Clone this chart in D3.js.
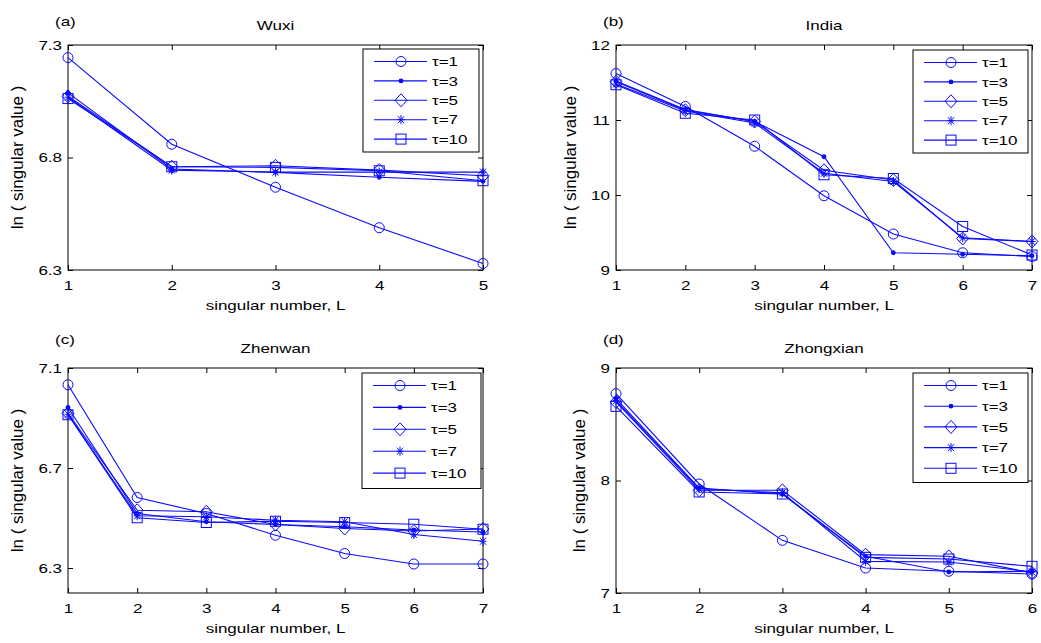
<!DOCTYPE html>
<html>
<head>
<meta charset="utf-8">
<script src="https://cdn.jsdelivr.net/npm/d3@7"></script>
<style>
  body { margin: 0; background: #fff; }
  svg { display: block; }
  text { font-family: "Liberation Sans", Arial, sans-serif; fill: #000; }
</style>
</head>
<body>
<div id="chart"></div>
<script>
// legend entries and marker type per series
const tauLabels = ['τ=1', 'τ=3', 'τ=5', 'τ=7', 'τ=10'];
const markerTypes = ['circle', 'dot', 'diamond', 'star', 'square'];

// (a) Wuxi
const wuxiL = [1, 2, 3, 4, 5];
const wuxiValues = [
  [7.244, 6.859, 6.668, 6.488, 6.329],
  [7.087, 6.749, 6.734, 6.712, 6.694],
  [7.072, 6.759, 6.763, 6.744, 6.719],
  [7.068, 6.744, 6.735, 6.735, 6.735],
  [7.062, 6.759, 6.756, 6.741, 6.697]
];
const wuxiYTicks = [6.3, 6.8, 7.3];

// (b) India
const indiaL = [1, 2, 3, 4, 5, 6, 7];
const indiaValues = [
  [11.62, 11.18, 10.65, 9.99, 9.48, 9.23, 9.18],
  [11.52, 11.14, 10.98, 10.51, 9.23, 9.21, 9.19],
  [11.51, 11.13, 10.98, 10.33, 10.20, 9.42, 9.38],
  [11.48, 11.12, 10.96, 10.29, 10.18, 9.43, 9.38],
  [11.47, 11.09, 11.00, 10.27, 10.22, 9.58, 9.20]
];
const indiaYTicks = [9, 10, 11, 12];

// (c) Zhenwan
const zhenwanL = [1, 2, 3, 4, 5, 6, 7];
const zhenwanValues = [
  [7.033, 6.582, 6.518, 6.431, 6.358, 6.316, 6.316],
  [6.942, 6.518, 6.485, 6.474, 6.465, 6.452, 6.444],
  [6.919, 6.531, 6.525, 6.474, 6.458, 6.448, 6.456],
  [6.915, 6.509, 6.505, 6.491, 6.485, 6.434, 6.407],
  [6.913, 6.501, 6.482, 6.487, 6.482, 6.475, 6.455]
];
const zhenwanYTicks = [6.3, 6.7, 7.1];

// (d) Zhongxian
const zhongxianL = [1, 2, 3, 4, 5, 6];
const zhongxianValues = [
  [8.772, 7.969, 7.468, 7.222, 7.193, 7.169],
  [8.727, 7.933, 7.880, 7.326, 7.187, 7.193],
  [8.698, 7.913, 7.913, 7.341, 7.326, 7.178],
  [8.710, 7.927, 7.890, 7.281, 7.276, 7.187],
  [8.659, 7.898, 7.880, 7.317, 7.302, 7.237]
];
const zhongxianYTicks = [7, 8, 9];

const panels = [
  { tag: '(a)', title: 'Wuxi', L: wuxiL, values: wuxiValues, yDomain: [6.3, 7.3], yTicks: wuxiYTicks,
    left: 68, top: 45, right: 483, bottom: 270, ylabX: 23, legX: 363, legY: 49, legStep: 19.4, legW: 116 },
  { tag: '(b)', title: 'India', L: indiaL, values: indiaValues, yDomain: [9, 12], yTicks: indiaYTicks,
    left: 616, top: 45, right: 1032, bottom: 270, ylabX: 576, legX: 913, legY: 50, legStep: 19.4, legW: 115 },
  { tag: '(c)', title: 'Zhenwan', L: zhenwanL, values: zhenwanValues, yDomain: [6.2, 7.1], yTicks: zhenwanYTicks,
    left: 68, top: 368, right: 483, bottom: 593, ylabX: 23, legX: 362, legY: 373, legStep: 21.9, legW: 119 },
  { tag: '(d)', title: 'Zhongxian', L: zhongxianL, values: zhongxianValues, yDomain: [7, 9], yTicks: zhongxianYTicks,
    left: 616, top: 368, right: 1032, bottom: 593, ylabX: 585, legX: 913, legY: 373, legStep: 20.7, legW: 115 }
];

const width = 1041;
const height = 643;
const blue = '#0a0aff';
const squash = 'scale(1,0.8)';

const svg = d3.select('#chart')
  .append('svg')
  .attr('width', width)
  .attr('height', height);

svg.append('rect').attr('width', width).attr('height', height).attr('fill', '#fff');

// draw one marker centred on 0,0
const drawMarker = (g, type) => {
  if (type === 'circle') {
    g.append('circle').attr('r', 5).attr('fill', 'none').attr('stroke', blue);
  } else if (type === 'dot') {
    g.append('circle').attr('r', 2.4).attr('fill', blue).attr('stroke', 'none');
  } else if (type === 'diamond') {
    g.append('path').attr('d', 'M0,-6.5L6,0L0,6.5L-6,0Z').attr('fill', 'none').attr('stroke', blue);
  } else if (type === 'star') {
    g.append('path')
      .attr('d', 'M0,-4.5V4.5M-3.5,0H3.5M-3,-3.5L3,3.5M-3,3.5L3,-3.5')
      .attr('fill', 'none').attr('stroke', blue);
  } else if (type === 'square') {
    g.append('rect').attr('x', -5).attr('y', -5).attr('width', 10).attr('height', 10)
      .attr('fill', 'none').attr('stroke', blue);
  }
};

panels.forEach(p => {
  const x = d3.scaleLinear().domain(d3.extent(p.L)).range([p.left, p.right]);
  const y = d3.scaleLinear().domain(p.yDomain).range([p.bottom, p.top]);
  const g = svg.append('g');

  // axes with inward ticks
  const bottomAxis = g.append('g')
    .attr('transform', `translate(0,${p.bottom})`)
    .call(d3.axisBottom(x).tickValues(p.L).tickFormat(d3.format('d')).tickSizeInner(-5).tickSizeOuter(0));
  bottomAxis.selectAll('text')
    .attr('y', 15 / 0.8).attr('dy', '0.35em')
    .attr('transform', squash)
    .style('font-size', '17px');

  const leftAxis = g.append('g')
    .attr('transform', `translate(${p.left},0)`)
    .call(d3.axisLeft(y).tickValues(p.yTicks).tickFormat(d => String(d)).tickSizeInner(-5).tickSizeOuter(0).tickPadding(6));
  leftAxis.selectAll('text')
    .attr('dy', '0.32em')
    .attr('transform', squash)
    .style('font-size', '17px');

  g.append('g')
    .attr('transform', `translate(0,${p.top})`)
    .call(d3.axisTop(x).tickValues(p.L).tickFormat('').tickSizeInner(-5).tickSizeOuter(0));
  g.append('g')
    .attr('transform', `translate(${p.right},0)`)
    .call(d3.axisRight(y).tickValues(p.yTicks).tickFormat('').tickSizeInner(-5).tickSizeOuter(0));

  g.selectAll('.domain').remove();
  g.selectAll('.tick line').attr('stroke', '#000');

  g.append('rect')
    .attr('x', p.left).attr('y', p.top)
    .attr('width', p.right - p.left).attr('height', p.bottom - p.top)
    .attr('fill', 'none').attr('stroke', '#000').attr('stroke-width', 1);

  // series
  const line = d3.line().x((d, i) => x(p.L[i])).y(d => y(d));
  p.values.forEach((vals, si) => {
    g.append('path')
      .datum(vals)
      .attr('d', line)
      .attr('fill', 'none')
      .attr('stroke', blue)
      .attr('stroke-width', 1.1);
    vals.forEach((v, i) => {
      const m = g.append('g').attr('transform', `translate(${x(p.L[i])},${y(v)})`);
      drawMarker(m, markerTypes[si]);
    });
  });

  // titles and labels
  g.append('text')
    .attr('transform', `translate(${(p.left + p.right) / 2},${p.top - 15}) ${squash}`)
    .attr('text-anchor', 'middle')
    .style('font-size', '17px')
    .text(p.title);

  g.append('text')
    .attr('transform', `translate(${p.left - 13},${p.top - (p.top < 100 ? 19.5 : 24.5)}) ${squash}`)
    .style('font-size', '17px')
    .text(p.tag);

  g.append('text')
    .attr('transform', `translate(${(p.left + p.right) / 2},${p.bottom + 40}) ${squash}`)
    .attr('text-anchor', 'middle')
    .style('font-size', '17px')
    .text('singular number, L');

  g.append('text')
    .attr('transform', `translate(${p.ylabX},${(p.top + p.bottom) / 2}) rotate(-90)`)
    .attr('text-anchor', 'middle')
    .style('font-size', '17px')
    .text('ln ( singular value )');

  // legend
  const leg = g.append('g').attr('transform', `translate(${p.legX},${p.legY})`);
  leg.append('rect')
    .attr('width', p.legW)
    .attr('height', p.legStep * 5 + 6)
    .attr('fill', '#fff')
    .attr('stroke', '#000')
    .attr('stroke-width', 1);
  tauLabels.forEach((label, si) => {
    const ry = 12.5 + si * p.legStep;
    leg.append('line')
      .attr('x1', 11).attr('x2', 64)
      .attr('y1', ry).attr('y2', ry)
      .attr('stroke', blue)
      .attr('stroke-width', 1.1);
    drawMarker(leg.append('g').attr('transform', `translate(38,${ry})`), markerTypes[si]);
    leg.append('text')
      .attr('transform', `translate(69,${ry}) ${squash}`)
      .attr('dy', '0.35em')
      .style('font-size', '17px')
      .text(label);
  });
});
</script>
</body>
</html>
